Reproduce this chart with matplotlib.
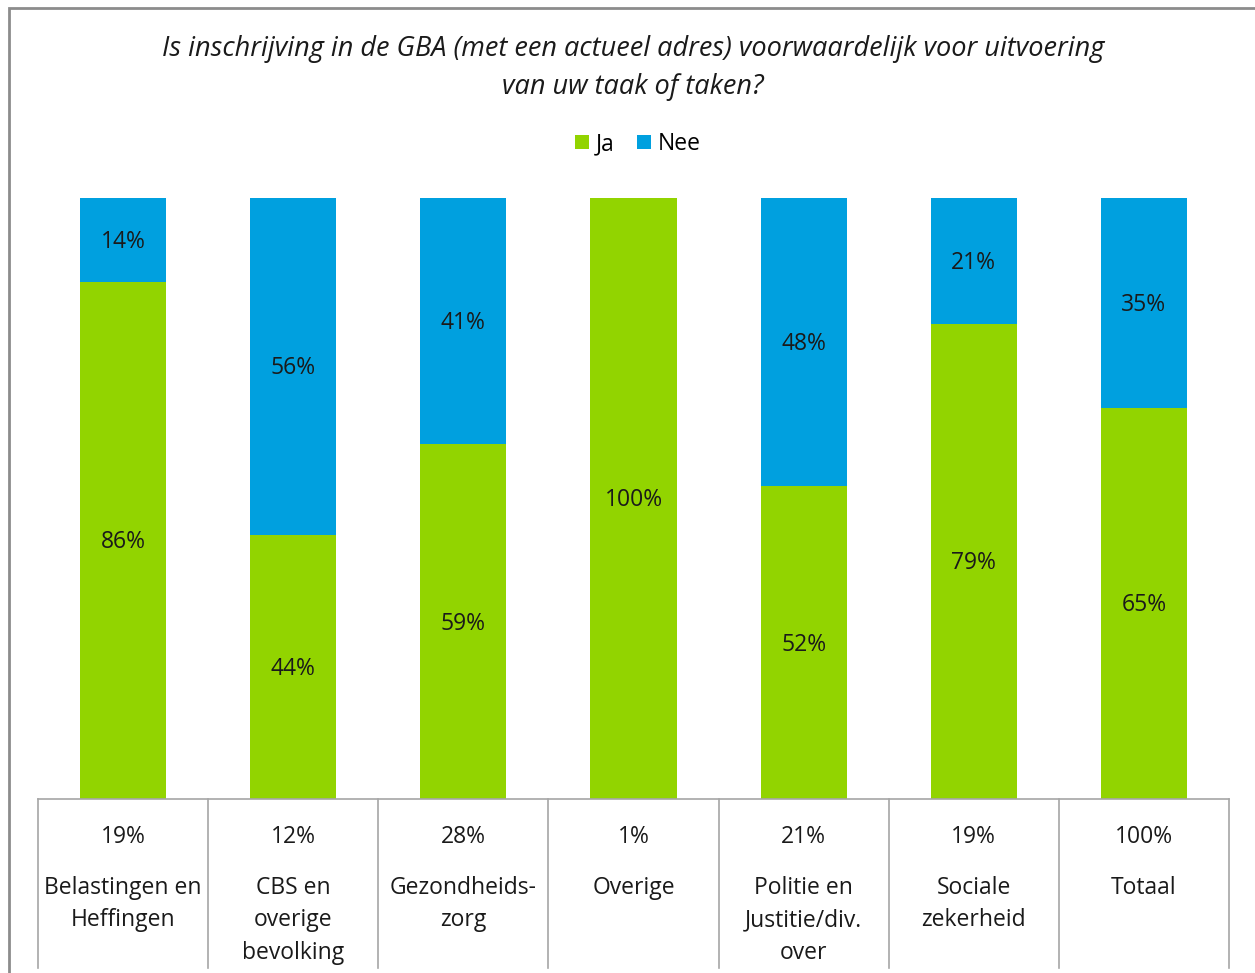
import matplotlib.pyplot as plt
import numpy as np
from matplotlib.patches import Rectangle

plt.rcParams['font.family'] = ['Open Sans', 'DejaVu Sans']

# Data
categories = ['Belastingen en\nHeffingen', 'CBS en\noverige\nbevolking', 'Gezondheids-\nzorg',
              'Overige', 'Politie en\nJustitie/div.\nover', 'Sociale\nzekerheid', 'Totaal']
aandeel = [19, 12, 28, 1, 21, 19, 100]
ja = [86, 44, 59, 100, 52, 79, 65]
nee = [14, 56, 41, 0, 48, 21, 35]

green = '#92D400'
blue = '#00A0DF'
W, H = 1255, 973
fs = 16.5

fig = plt.figure(figsize=(W / 100, H / 100), dpi=100)
ax = fig.add_axes([38 / W, 1 - 799 / H, (1229 - 38) / W, (799 - 198) / H])

x = np.arange(len(categories))
ja_arr = np.array(ja)
nee_arr = np.array(nee)
bars_ja = ax.bar(x, ja_arr, width=0.506, color=green, label='Ja')
bars_nee = ax.bar(x, nee_arr, width=0.506, bottom=ja_arr, color=blue, label='Nee')

for i in range(len(x)):
    if ja[i] > 0:
        ax.text(x[i], ja[i] / 2 - 0.3, f'{ja[i]}%', ha='center', va='center', fontsize=fs, color='#1a1a1a')
    if nee[i] > 0:
        ax.text(x[i], ja[i] + nee[i] / 2 - 0.3, f'{nee[i]}%', ha='center', va='center', fontsize=fs, color='#1a1a1a')

ax.set_xlim(-0.5, len(x) - 0.5)
ax.set_ylim(0, 100)
ax.axis('off')

# table below the bars
tbl_depth = -(968 - 799) / (799 - 198) * 100
line_kw = dict(color='#a6a6a6', lw=1.2, clip_on=False)
ax.plot([-0.5, len(x) - 0.5], [0, 0], **line_kw)
for b in np.arange(len(x) + 1) - 0.5:
    ax.plot([b, b], [0, tbl_depth], **line_kw)

px = 100 / (799 - 198)
for i in range(len(x)):
    ax.text(x[i], -(837 - 799) * px, f'{aandeel[i]}%', ha='center', va='center', fontsize=fs, color='#1a1a1a')
    ax.text(x[i], -(876 - 799) * px, categories[i], ha='center', va='top', fontsize=fs,
            color='#1a1a1a', linespacing=1.47)

# title and legend
fig.text(633 / W, 1 - 68 / H,
         'Is inschrijving in de GBA (met een actueel adres) voorwaardelijk voor uitvoering\nvan uw taak of taken?',
         ha='center', va='center', fontsize=19.5, style='italic', color='#1a1a1a', linespacing=1.45)
fig.legend(handles=[bars_ja, bars_nee], labels=['Ja', 'Nee'], loc='center', bbox_to_anchor=(638 / W, 1 - 144 / H),
           ncol=2, frameon=False, fontsize=fs, handlelength=0.6, handleheight=0.6, handletextpad=0.3,
           columnspacing=1.0)

# outer frame
fig.patches.append(Rectangle((9 / W, -0.05), 1.1, 1 - 8 / H + 0.05, transform=fig.transFigure,
                             fill=False, edgecolor='#8c8c8c', lw=2))

fig.savefig('out.png', dpi=100)
